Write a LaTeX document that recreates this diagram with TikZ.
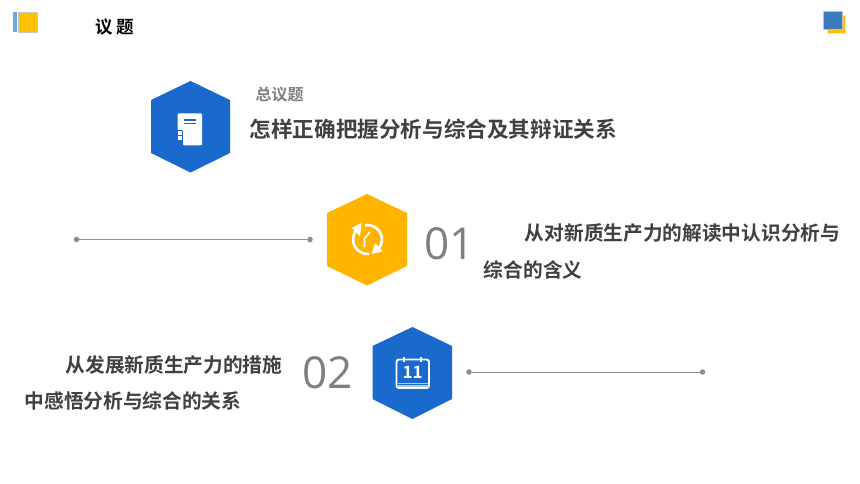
\documentclass[tikz,border=0pt]{standalone}
\usepackage{fontspec}
\newfontfamily\cjk[BoldFont={Noto Sans CJK SC Bold}]{Noto Sans CJK SC}
\newfontfamily\numf{Open Sans}
\definecolor{hexblue}{HTML}{1A69CC}
\definecolor{hexgold}{HTML}{FFB500}
\definecolor{txtdark}{HTML}{404040}
\definecolor{txtgray}{HTML}{7F7F7F}
\definecolor{numgray}{HTML}{7F7F7F}
\definecolor{linegray}{HTML}{8C8C8C}
\definecolor{sqgold}{HTML}{FFC000}
\definecolor{sqblue}{HTML}{3A7ABF}
\definecolor{sqlight}{HTML}{6FA8DC}
\tikzset{
  x=1pt,y=-1pt,
  ttl/.style={anchor=west,inner sep=0pt,font=\cjk\bfseries,text=txtdark},
  body/.style={ttl,font=\cjk\bfseries\fontsize{19.7}{20}\selectfont},
  num/.style={anchor=center,inner sep=0pt,font=\numf\fontsize{44}{48}\selectfont,text=numgray},
  dotpt/.style={circle,fill=linegray,draw=none,inner sep=0pt,minimum size=5.5pt},
  conn/.style={draw=linegray,line width=1pt}
}
\begin{document}
\begin{tikzpicture}
\useasboundingbox (0,0) rectangle (860,484);
\fill[white] (0,0) rectangle (860,484);
% corners
\fill[sqlight] (13,12.5) rectangle (16.5,32);
\fill[sqgold,draw=black!22,line width=.5pt] (18,12.5) rectangle (37.5,32);
\fill[sqgold,draw=black!10,line width=.5pt] (827.3,15) rectangle (845.7,33.3);
\fill[sqblue,draw=black!25,line width=.5pt] (823.7,11.7) rectangle (842.3,29.5);
\node[ttl,font=\cjk\bfseries\fontsize{17.5}{18}\selectfont,text=black] (t0a) at (95,27.5) {议};
\node[ttl,font=\cjk\bfseries\fontsize{17.5}{18}\selectfont,text=black] (t0b) at (116.5,27.5) {题};
% hexagons
\fill[hexblue] (190.5,81) -- (230,100) -- (230,153) -- (190.5,172.5) -- (151,153) -- (151,100) -- cycle;
\fill[hexgold] (367,194) -- (407,213) -- (407,266) -- (367,285.5) -- (327,266) -- (327,213) -- cycle;
\fill[hexblue] (412.5,327) -- (452,346) -- (452,399) -- (412.5,419) -- (372.5,399) -- (372.5,346) -- cycle;
% icon 1: notebook
\fill[white,rounded corners=1pt] (177.5,113.5) -- (202,113.5) -- (202,145.5) -- (183,145.5) -- (183,130) -- (177.5,130) -- cycle;
\fill[hexblue] (183.5,119.5) rectangle (196,120.8);
\fill[hexblue] (183.5,123.2) rectangle (196,124.5);
\fill[white] (177.5,131.5) rectangle (181.5,135);
\fill[white] (177.5,136.5) rectangle (181.5,140);
% icon 2: rotating arrows with clock hands
\draw[white,line width=2.6pt] (367.5,239.5) ++(-100:14.4) arc[start angle=-100,end angle=45,radius=14.4];
\draw[white,line width=2.6pt] (367.5,239.5) ++(83:14.4) arc[start angle=83,end angle=222,radius=14.4];
\fill[white] (361.7,223) -- (351.7,228) -- (360,236) -- cycle;
\fill[white] (371.7,254) -- (382.7,251.3) -- (375,243) -- cycle;
\draw[white,line width=1.6pt] (364.5,247) -- (364.5,238.5) -- (370,232);
% icon 3: calendar
\draw[white,line width=1.9pt,rounded corners=2.5pt] (396.5,359.5) rectangle (429,388);
\draw[white,line width=1.4pt] (404,357) -- (404,361.5);
\draw[white,line width=1.4pt] (421,357) -- (421,361.5);
\fill[white!65!hexblue] (398,382.5) rectangle (428,383.5);
\fill[white!65!hexblue] (398,385) rectangle (428,386.5);
\node[inner sep=0pt,font=\cjk\bfseries\fontsize{17}{17}\selectfont,text=white] (cal) at (412.7,372.5) {11};
% connectors
\node[dotpt] (a1) at (76.5,239.5) {};
\node[dotpt] (a2) at (310,239.5) {};
\draw[conn] (a1) -- (a2);
\node[dotpt] (b1) at (469,372) {};
\node[dotpt] (b2) at (702.5,372) {};
\draw[conn] (b1) -- (b2);
% texts
\node[ttl,font=\cjk\bfseries\fontsize{16}{17}\selectfont,text=txtgray] (h1) at (255.5,94.5) {总议题};
\node[ttl,font=\cjk\bfseries\fontsize{21.6}{22}\selectfont] (h2) at (249.5,129.5) {怎样正确把握分析与综合及其辩证关系};
\node[num] (n1) at (449.5,244) {01};
\node[num] (n2) at (327.5,372.5) {02};
\node[body] (p1) at (524.7,233.5) {从对新质生产力的解读中认识分析与};
\node[body] (p2) at (483.7,269.5) {综合的含义};
\node[body] (q1) at (65.5,365) {从发展新质生产力的措施};
\node[body] (q2) at (24.5,400.5) {中感悟分析与综合的关系};
\end{tikzpicture}
\end{document}
